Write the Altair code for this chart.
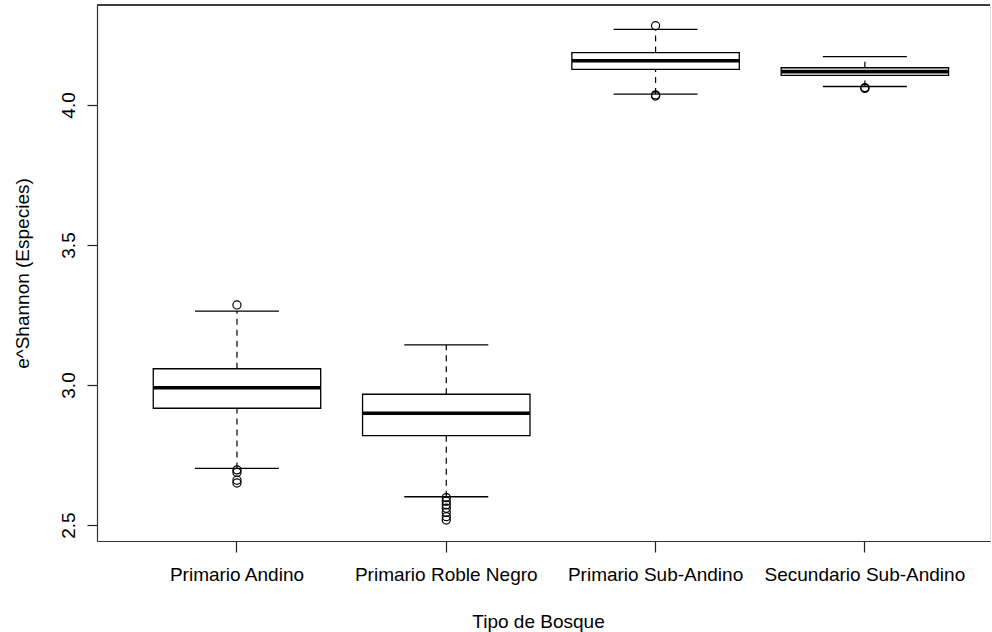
import altair as alt
import pandas as pd

# ---- data ----
cats = ["Primario Andino", "Primario Roble Negro", "Primario Sub-Andino", "Secundario Sub-Andino"]
lower = [2.702, 2.601, 4.039, 4.066]
q1 = [2.917, 2.819, 4.127, 4.106]
median = [2.990, 2.899, 4.158, 4.119]
q3 = [3.058, 2.967, 4.187, 4.133]
upper = [3.264, 3.143, 4.270, 4.173]

out_cat = (["Primario Andino"] * 5 + ["Primario Roble Negro"] * 7
           + ["Primario Sub-Andino"] * 3 + ["Secundario Sub-Andino"] * 2)
out_val = [3.286, 2.697, 2.688, 2.660, 2.650,
           2.598, 2.585, 2.572, 2.560, 2.545, 2.530, 2.518,
           4.283, 4.036, 4.032,
           4.062, 4.059]

y_ticks = [2.5, 3.0, 3.5, 4.0]

box_df = pd.DataFrame({"cat": cats, "lower": lower, "q1": q1, "median": median,
                       "q3": q3, "upper": upper})
out_df = pd.DataFrame({"cat": out_cat, "val": out_val})

W, H = 893, 536
FONT = "Liberation Sans"
FS = 19

xscale = alt.Scale(type="band", paddingInner=0.2, paddingOuter=0.2333, align=0.576)
yscale = alt.Scale(domain=[2.443, 4.357], nice=False, zero=False)

xaxis = alt.Axis(title="Tipo de Bosque", labelAngle=0, labelFontSize=FS, titleFontSize=FS,
                 labelFont=FONT, titleFont=FONT, labelColor="black", titleColor="black",
                 titleFontWeight="normal", tickSize=11, tickColor="#222", domainColor="#333",
                 domainWidth=1.2, tickWidth=1.2, labelPadding=13, grid=False, labelLimit=0,
                 titleX=441, titleY=80, titleBaseline="middle", titleAnchor="start",
                 titleAlign="center")
yaxis = alt.Axis(title="e^Shannon (Especies)", values=y_ticks, format=".1f", labelAngle=-90,
                 labelAlign="center", labelBaseline="bottom", labelFontSize=FS,
                 titleFontSize=FS, labelFont=FONT, titleFont=FONT, labelColor="black",
                 titleColor="black", titleFontWeight="normal", tickSize=10, tickColor="#222",
                 domainColor="#333", domainWidth=1.2, tickWidth=1.2, labelPadding=9,
                 grid=False, titleAngle=-90, titleX=-75, titleY=268, titleBaseline="middle",
                 titleAlign="center", labelFlush=False)

X = alt.X("cat:N", sort=cats, scale=xscale, axis=xaxis)
Xn = alt.X("cat:N", sort=cats, scale=xscale)

base = alt.Chart(box_df)

upper_dash = base.mark_rule(color="black", strokeWidth=1.2, strokeDash=[6, 5]).encode(
    x=X, y=alt.Y("q3:Q", scale=yscale, axis=yaxis), y2="upper:Q")
lower_dash = base.mark_rule(color="black", strokeWidth=1.2, strokeDash=[6, 5]).encode(
    x=Xn, y=alt.Y("lower:Q", scale=yscale), y2="q1:Q")
boxes = base.mark_bar(fill="white", stroke="black", strokeWidth=1.3, opacity=1).encode(
    x=Xn, y=alt.Y("q1:Q", scale=yscale), y2="q3:Q")
meds = base.mark_tick(orient="horizontal", size=167, thickness=3.6, color="black",
                      opacity=1).encode(
    x=Xn, y=alt.Y("median:Q", scale=yscale))
cap_hi = base.mark_tick(orient="horizontal", size=84, thickness=1.3, color="black",
                        opacity=1).encode(
    x=Xn, y=alt.Y("upper:Q", scale=yscale))
cap_lo = base.mark_tick(orient="horizontal", size=84, thickness=1.3, color="black",
                        opacity=1).encode(
    x=Xn, y=alt.Y("lower:Q", scale=yscale))
pts = alt.Chart(out_df).mark_point(shape="circle", filled=False, color="black", size=66,
                                   strokeWidth=1.2, opacity=1).encode(
    x=Xn, y=alt.Y("val:Q", scale=yscale))
top_border = alt.Chart(box_df).mark_rule(color="#333", strokeWidth=1.2).encode(
    x=alt.value(0), x2=alt.value(W), y=alt.value(0))

chart = alt.layer(upper_dash, lower_dash, boxes, meds, cap_hi, cap_lo, pts, top_border).properties(
    width=W, height=H,
    autosize=alt.AutoSizeParams(type="none"),
    padding={"left": 97, "top": 5, "right": 2, "bottom": 91},
).configure_view(stroke=None).configure(background="white")

chart.save("out.html", embed_options={"renderer": "svg", "actions": False})
